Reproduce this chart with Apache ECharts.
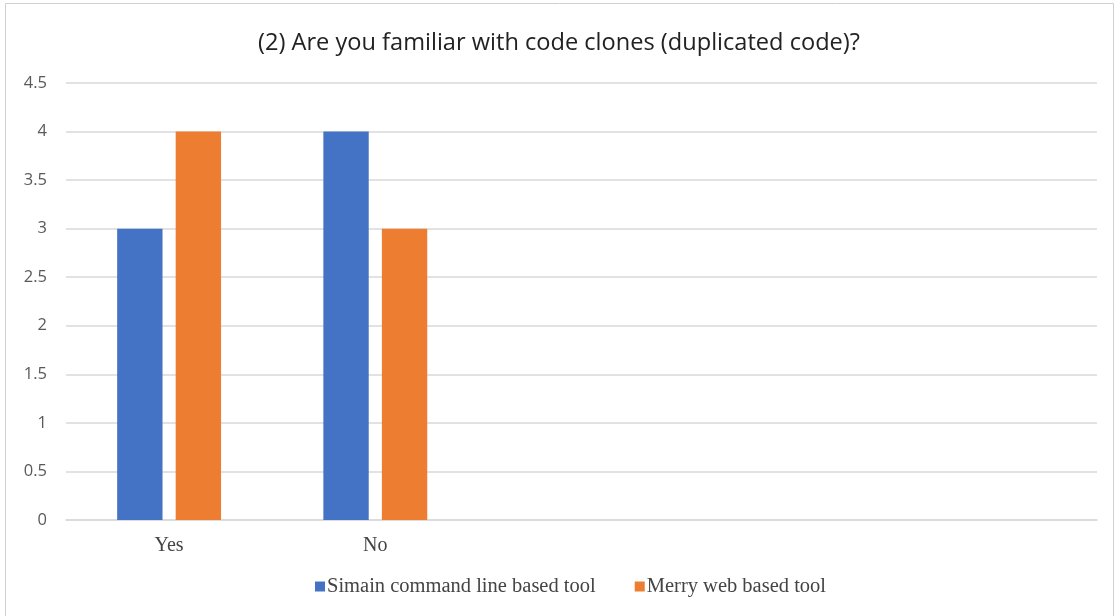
<!DOCTYPE html>
<html>
<head>
<meta charset="utf-8">
<script src="https://cdn.jsdelivr.net/npm/echarts@6/dist/echarts.min.js"></script>
<style>
  html, body { margin: 0; padding: 0; background: #fff; }
  #chart { width: 1118px; height: 616px; }
</style>
</head>
<body>
<div id="chart"></div>
<script>
// 类别（后三个为空类别）
const categories = ['Yes', 'No', '', '', '']
const simainValues = [3, 4, null, null, null]
const merryValues = [4, 3, null, null, null]
const seriesNames = ['Simain command line based tool', 'Merry web based tool']

const myChart = echarts.init(document.getElementById('chart'))
const option = {
    title: {
        text: '(2) Are you familiar with code clones (duplicated code)?',
        left: 'center',
        top: 26,
        textStyle: { fontFamily: 'Open Sans', fontWeight: 'normal', fontSize: 23.6, color: '#222' }
    },
    graphic: [{
        type: 'rect',
        shape: { x: 5.5, y: 3.5, width: 1108, height: 620 },
        style: { fill: 'none', stroke: '#d0d0d0', lineWidth: 1 },
        silent: true
    }],
    legend: {
        data: seriesNames,
        bottom: 14,
        left: 310,
        itemWidth: 10,
        itemHeight: 10,
        itemGap: 39,
        icon: 'rect',
        textStyle: { fontFamily: 'Liberation Serif', fontSize: 20.5, color: '#444', padding: [0, 0, 0, -3] }
    },
    grid: { left: 66, right: 21, top: 83, bottom: 96 },
    xAxis: {
        type: 'category',
        data: categories,
        axisLine: { lineStyle: { color: '#d9d9d9', width: 1.5 } },
        axisTick: { show: false },
        axisLabel: { fontFamily: 'Liberation Serif', fontSize: 20, color: '#444', margin: 16 }
    },
    yAxis: {
        type: 'value',
        min: 0,
        max: 4.5,
        interval: 0.5,
        axisLine: { show: false },
        axisTick: { show: false },
        splitLine: { lineStyle: { color: '#d9d9d9', width: 1.5 } },
        axisLabel: { fontFamily: 'Open Sans', fontSize: 16.5, color: '#595959', margin: 19 }
    },
    series: [
        {
            name: seriesNames[0],
            type: 'bar',
            data: simainValues,
            barWidth: '22%',
            barGap: '29%',
            itemStyle: { color: '#4472c4' }
        },
        {
            name: seriesNames[1],
            type: 'bar',
            data: merryValues,
            barWidth: '22%',
            itemStyle: { color: '#ed7d31' }
        }
    ]
}
myChart.setOption(option)
</script>
</body>
</html>
